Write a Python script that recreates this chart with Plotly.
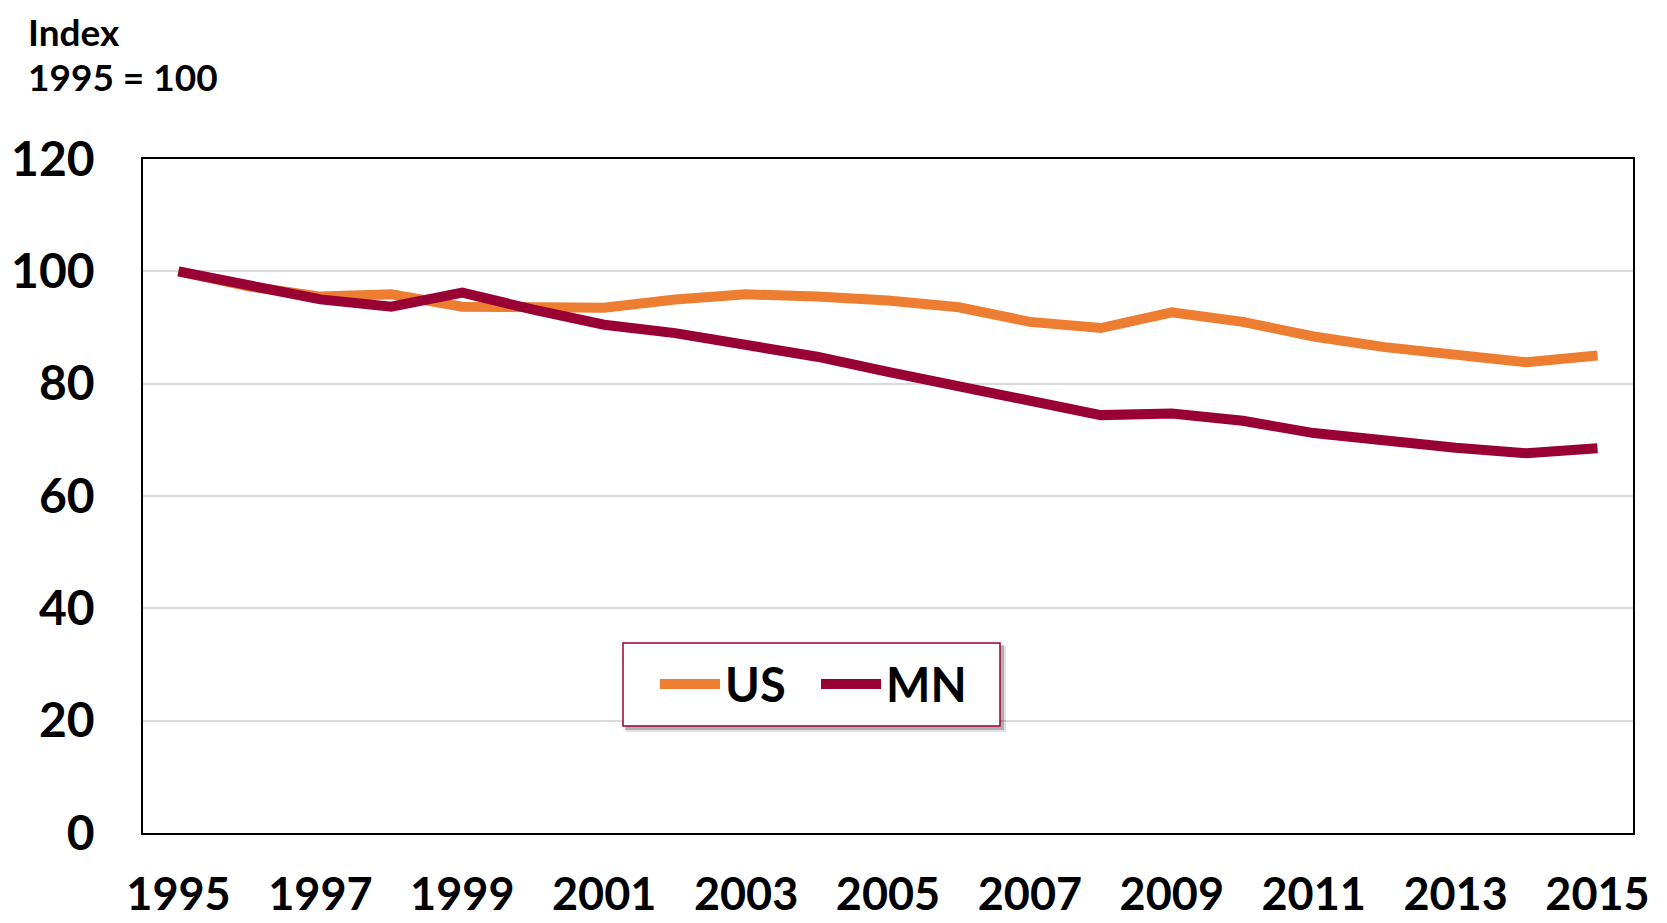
import plotly.graph_objects as go

years = list(range(1995, 2016))
us = [100, 97.3, 95.5, 95.9, 93.7, 93.7, 93.5, 95.0, 95.9, 95.5, 94.8,
      93.6, 91.0, 89.9, 92.7, 91.0, 88.4, 86.5, 85.2, 83.8, 85.0]
mn = [100, 97.3, 95.0, 93.7, 96.2, 93.2, 90.5, 89.0, 86.9, 84.8, 82.1,
      79.5, 77.3, 74.4, 74.7, 73.4, 71.2, 69.7, 68.6, 67.6, 68.5]
x_ticks = list(range(1995, 2016, 2))
y_ticks = list(range(0, 121, 20))

OFF = 8  # page body margin
W, H = 1667 - OFF, 923 - OFF
L, R, T, B = 135, 34, 151, 90
pw, ph = W - L - R, H - T - B

def px(page_x):
    return (page_x - OFF - L) / pw

def py(page_y):
    return (H - B - (page_y - OFF)) / ph

FONT = "Lato"
US_C, MN_C = "#ED7D31", "#990033"

fig = go.Figure()
fig.add_trace(go.Scatter(x=years, y=us, name="US", mode="lines",
                         line=dict(color=US_C, width=10)))
fig.add_trace(go.Scatter(x=years, y=mn, name="MN", mode="lines",
                         line=dict(color=MN_C, width=10)))

# legend frame (box + soft shadow)
bx0, bx1, by0, by1 = 623, 1000, 643, 726
shapes = [
    dict(type="rect", xref="paper", yref="paper", layer="above",
         x0=px(bx0 + 3), x1=px(bx1 + 6), y0=py(by1 + 6), y1=py(by0 + 3),
         fillcolor="rgba(0,0,0,0.12)", line=dict(width=0)),
    dict(type="rect", xref="paper", yref="paper", layer="above",
         x0=px(bx0 + 2), x1=px(bx1 + 4), y0=py(by1 + 4), y1=py(by0 + 2),
         fillcolor="rgba(0,0,0,0.22)", line=dict(width=0)),
    dict(type="rect", xref="paper", yref="paper", layer="above",
         x0=px(bx0), x1=px(bx1), y0=py(by1), y1=py(by0),
         fillcolor="white", line=dict(color=MN_C, width=1.5)),
]

fig.update_layout(
    width=W, height=H,
    margin=dict(l=L, r=R, t=T, b=B, autoexpand=False),
    paper_bgcolor="white", plot_bgcolor="white",
    font=dict(family=FONT, color="black", size=47, weight="bold"),
    showlegend=True,
    legend=dict(orientation="h", x=px(655), y=py((by0 + by1) / 2),
                xanchor="left", yanchor="middle",
                borderwidth=0, bgcolor="rgba(0,0,0,0)",
                font=dict(family=FONT, size=47, weight="bold", color="black"),
                itemwidth=60, entrywidth=86, valign="middle"),
    xaxis=dict(range=[1994.5, 2015.5], tickvals=x_ticks, ticktext=[str(v) for v in x_ticks],
               showgrid=False, zeroline=False, showline=True, mirror=True,
               linecolor="black", linewidth=1.5, ticks="outside", ticklen=21,
               tickcolor="rgba(0,0,0,0)", automargin=False,
               tickfont=dict(family=FONT, size=45, weight="bold", color="black")),
    yaxis=dict(range=[0, 120], tickvals=y_ticks, showgrid=True, gridcolor="#d9d9d9",
               gridwidth=1.5, zeroline=False, showline=True, mirror=True,
               linecolor="black", linewidth=1.5, ticks="outside", ticklen=37,
               tickcolor="rgba(0,0,0,0)", automargin=False,
               tickfont=dict(family=FONT, size=48, weight="bold", color="black")),
    shapes=shapes,
    annotations=[
        dict(text="Index", xref="paper", yref="paper", x=px(26), y=py(32),
             xanchor="left", yanchor="middle", showarrow=False,
             font=dict(family=FONT, size=37, weight="bold", color="black")),
        dict(text="1995 = 100", xref="paper", yref="paper", x=px(26), y=py(77),
             xanchor="left", yanchor="middle", showarrow=False,
             font=dict(family=FONT, size=37, weight="bold", color="black")),
    ],
)

fig.write_html("out.html")
